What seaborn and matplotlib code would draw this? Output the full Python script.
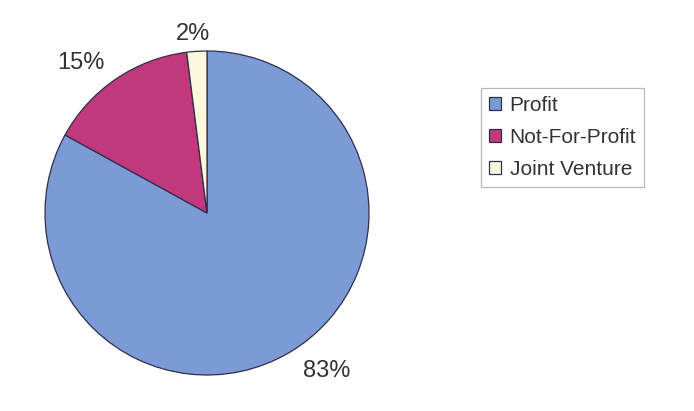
import matplotlib
matplotlib.use("Agg")
import matplotlib.pyplot as plt
import seaborn as sns
import numpy as np

categories = ["Profit", "Not-For-Profit", "Joint Venture"]
values = [83, 15, 2]
pct_labels = ["83%", "15%", "2%"]
colors = ["#7c9ad5", "#c0397c", "#fbf8dc"]

sns.set_theme(style="white")
plt.rcParams['font.family'] = ['Liberation Sans', 'DejaVu Sans']

W, H = 694, 411
fig = plt.figure(figsize=(W / 100, H / 100), dpi=100)
fig.patch.set_facecolor("white")

cx, cy, r = 207, 213, 162
ax = fig.add_axes([(cx - r) / W, (H - cy - r) / H, 2 * r / W, 2 * r / H])
wedges, _ = ax.pie(values, colors=colors, startangle=90, counterclock=False,
                   radius=1.0,
                   wedgeprops=dict(edgecolor="#2f2f4a", linewidth=0.9))
ax.set_xlim(-1, 1)
ax.set_ylim(-1, 1)
ax.set_aspect("equal")
ax.axis("off")

# label placement (layout offsets per label)
dists = [1.22, 1.21, 1.11]
ang_off = [6.5, 6.0, 1.0]
for w, lab, d, ao in zip(wedges, pct_labels, dists, ang_off):
    th = np.deg2rad((w.theta1 + w.theta2) / 2 + ao)
    ax.text(d * np.cos(th), d * np.sin(th), lab, ha="center", va="center",
            fontsize=17, color="#333333", clip_on=False)

leg = fig.legend(wedges, categories, loc="upper left",
                 bbox_to_anchor=(481 / W, 1 - 88 / H), bbox_transform=fig.transFigure,
                 borderaxespad=0, fontsize=15, handlelength=0.6, handleheight=0.6,
                 handletextpad=0.4, labelspacing=0.62, borderpad=0.38,
                 fancybox=False, frameon=True)
leg.get_frame().set_edgecolor("#a8a8a8")
leg.get_frame().set_linewidth(0.9)
for t in leg.get_texts():
    t.set_color("#333333")

fig.savefig("out.png", dpi=100, facecolor="white")
